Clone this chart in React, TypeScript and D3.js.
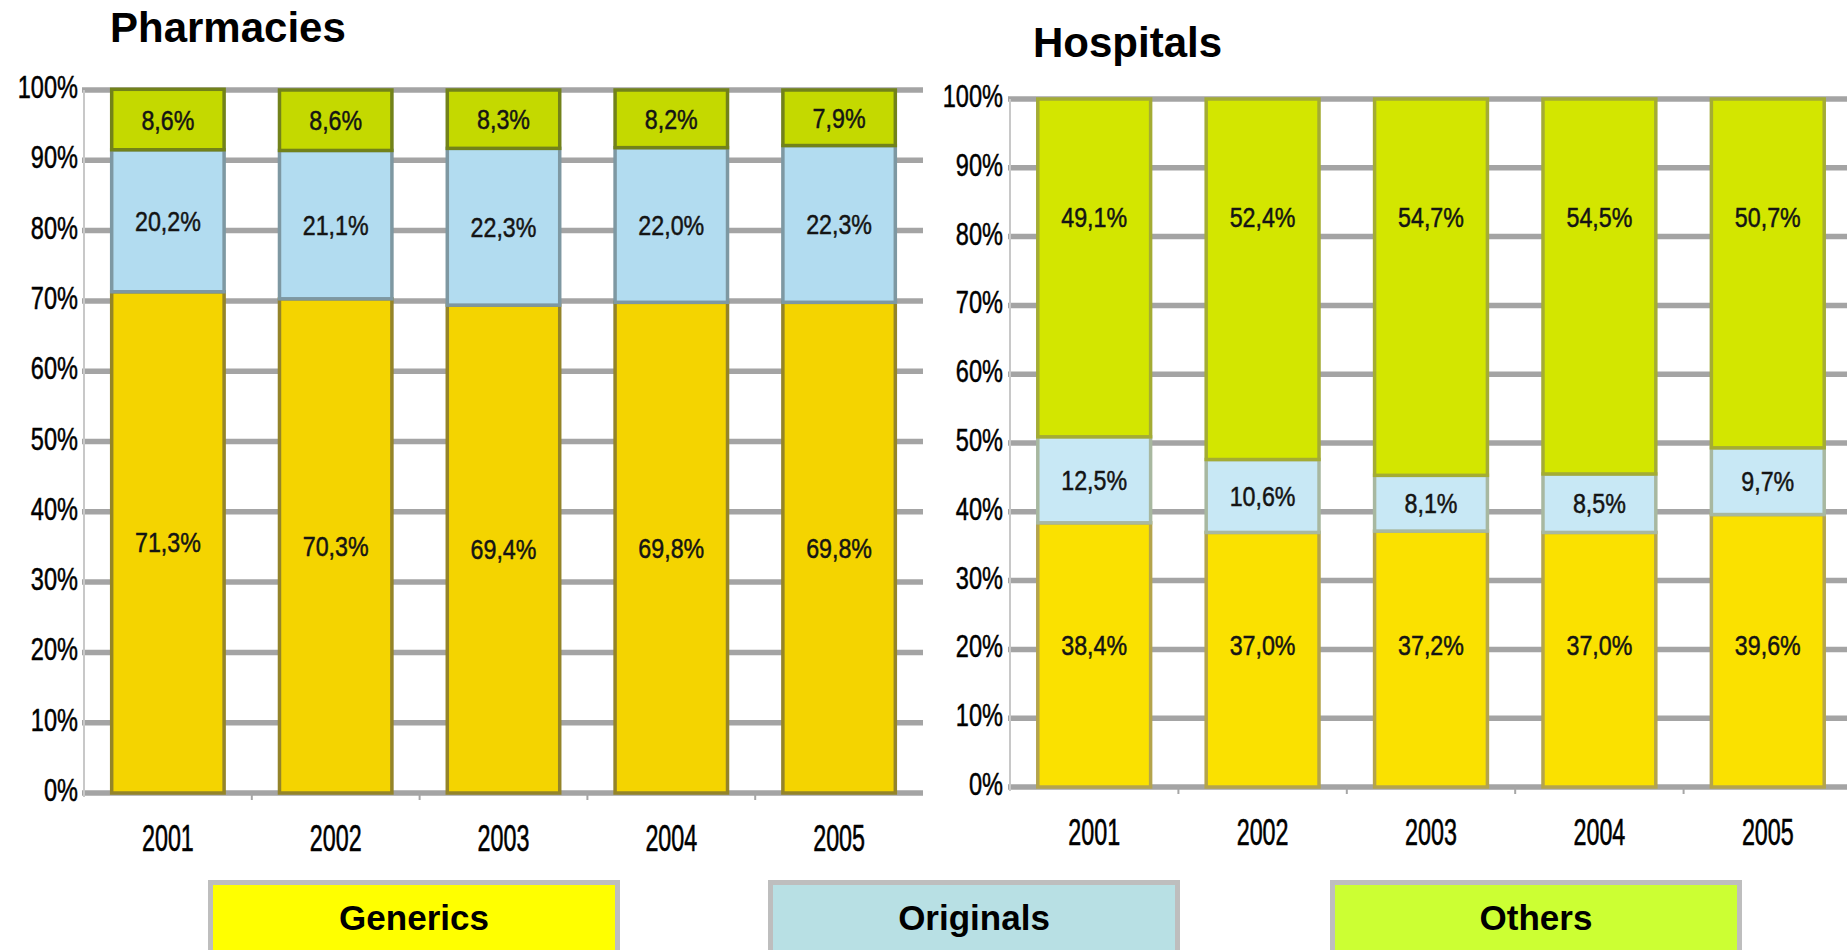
import React from 'react';
import * as d3 from 'd3';

const years = ['2001', '2002', '2003', '2004', '2005'];
const seriesNames = ['Generics', 'Originals', 'Others'];
const pharmGenerics = [71.3, 70.3, 69.4, 69.8, 69.8];
const pharmOriginals = [20.2, 21.1, 22.3, 22.0, 22.3];
const pharmOthers = [8.6, 8.6, 8.3, 8.2, 7.9];
const hospGenerics = [38.4, 37.0, 37.2, 37.0, 39.6];
const hospOriginals = [12.5, 10.6, 8.1, 8.5, 9.7];
const hospOthers = [49.1, 52.4, 54.7, 54.5, 50.7];
const yTicks = [0, 10, 20, 30, 40, 50, 60, 70, 80, 90, 100];

const W = 1847;
const H = 950;

type Panel = {
  title: string;
  titleX: number;
  titleY: number;
  x0: number;
  x1: number;
  yTop: number;
  yBottom: number;
  tickX: number;
  generics: number[];
  originals: number[];
  others: number[];
  fills: string[];
  strokes: string[];
  labelAt: (number | null)[];
};

const panels: Panel[] = [
  {
    title: 'Pharmacies', titleX: 110, titleY: 42,
    x0: 84, x1: 923, yTop: 90, yBottom: 793, tickX: 78,
    generics: pharmGenerics, originals: pharmOriginals, others: pharmOthers,
    fills: ['#F4D400', '#B2DCF0', '#C4D900'],
    strokes: ['#948429', '#7E98A2', '#72821A'],
    labelAt: [null, null, null],
  },
  {
    title: 'Hospitals', titleX: 1033, titleY: 57,
    x0: 1010, x1: 1852, yTop: 99, yBottom: 787, tickX: 1003,
    generics: hospGenerics, originals: hospOriginals, others: hospOthers,
    fills: ['#FAE100', '#C8E8F5', '#D3E600'],
    strokes: ['#B4A44C', '#A8B8A0', '#A4AC34'],
    labelAt: [20.6, null, 82.8],
  },
];

const legendFills = ['#FFFF00', '#B8E0E4', '#CCFF33'];
const legendX = [208, 768, 1330];

const fmt = (v: number) => v.toFixed(1).replace('.', ',') + '%';
const NARROW = "'Liberation Sans', Arial, sans-serif";

function ChartPanel({ p }: { p: Panel }) {
  const x = d3.scaleBand<string>().domain(years).range([p.x0, p.x1]).paddingInner(0.33).paddingOuter(0.165);
  const y = d3.scaleLinear().domain([0, 100]).range([p.yBottom, p.yTop]);
  const rows = years.map((yr, i) => ({ year: yr, Generics: p.generics[i], Originals: p.originals[i], Others: p.others[i] }));
  const stacked = d3.stack<any>().keys(seriesNames)(rows);
  const step = x.step();
  return (
    <g>
      <text x={p.titleX} y={p.titleY} fontFamily="'Liberation Sans', Arial, sans-serif" fontWeight="bold" fontSize={42} fill="#000">{p.title}</text>
      {yTicks.map((t) => (
        <line key={'g' + t} x1={p.x0 - 2} x2={p.x1} y1={y(t)} y2={y(t)} stroke="#A4A4A4" strokeWidth={5.5} />
      ))}
      <line x1={p.x0} x2={p.x0} y1={y(100)} y2={y(0) + 4} stroke="#C8C8C8" strokeWidth={2} />
      {years.map((yr, i) => i > 0 ? (
        <line key={'t' + yr} x1={(x(yr) as number) - (step - x.bandwidth()) / 2} x2={(x(yr) as number) - (step - x.bandwidth()) / 2} y1={y(0)} y2={y(0) + 7} stroke="#A6A6A6" strokeWidth={2} />
      ) : null)}
      {yTicks.map((t) => (
        <text key={'l' + t} transform={`translate(${p.tickX},${y(t) + 8}) scale(0.76,1)`} textAnchor="end" fontFamily={NARROW} fontSize={31} fill="#000" stroke="#000" strokeWidth={0.5}>{t}%</text>
      ))}
      {stacked.map((s, si) => (
        <g key={s.key}>
          {s.map((d, i) => (
            <rect key={i} x={x(years[i])} width={x.bandwidth()} y={y(d[1])} height={y(d[0]) - y(d[1])}
              fill={p.fills[si]} stroke={p.strokes[si]} strokeWidth={3.5} />
          ))}
        </g>
      ))}
      {stacked.map((s, si) => (
        <g key={'v' + s.key}>
          {s.map((d, i) => {
            const at = p.labelAt[si];
            const cy = at === null ? y((d[0] + d[1]) / 2) : y(at);
            const cx = (x(years[i]) as number) + x.bandwidth() / 2;
            return (
              <text key={i} transform={`translate(${cx},${cy + 10}) scale(0.83,1)`} textAnchor="middle" fontFamily={NARROW} fontSize={28} fill="#141414" stroke="#141414" strokeWidth={0.5}>{fmt(d[1] - d[0])}</text>
            );
          })}
        </g>
      ))}
      {years.map((yr) => (
        <text key={'y' + yr} transform={`translate(${(x(yr) as number) + x.bandwidth() / 2},${p.yBottom + 58}) scale(0.63,1)`} textAnchor="middle" fontFamily={NARROW} fontSize={37} fill="#000" stroke="#000" strokeWidth={0.6}>{yr}</text>
      ))}
    </g>
  );
}

export default function App() {
  return (
    <svg width={W} height={H} viewBox={`0 0 ${W} ${H}`} style={{ position: 'absolute', left: 0, top: 0, background: '#fff' }}>
      <rect x={0} y={0} width={W} height={H} fill="#fff" />
      {panels.map((p) => <ChartPanel key={p.title} p={p} />)}
      {seriesNames.map((name, i) => (
        <g key={name}>
          <rect x={legendX[i] + 2.5} y={882.5} width={407} height={80} fill={legendFills[i]} stroke="#BEBEBE" strokeWidth={5} />
          <text x={legendX[i] + 206} y={930} textAnchor="middle" fontFamily="'Liberation Sans', Arial, sans-serif" fontWeight="bold" fontSize={35} fill="#000">{name}</text>
        </g>
      ))}
    </svg>
  );
}
